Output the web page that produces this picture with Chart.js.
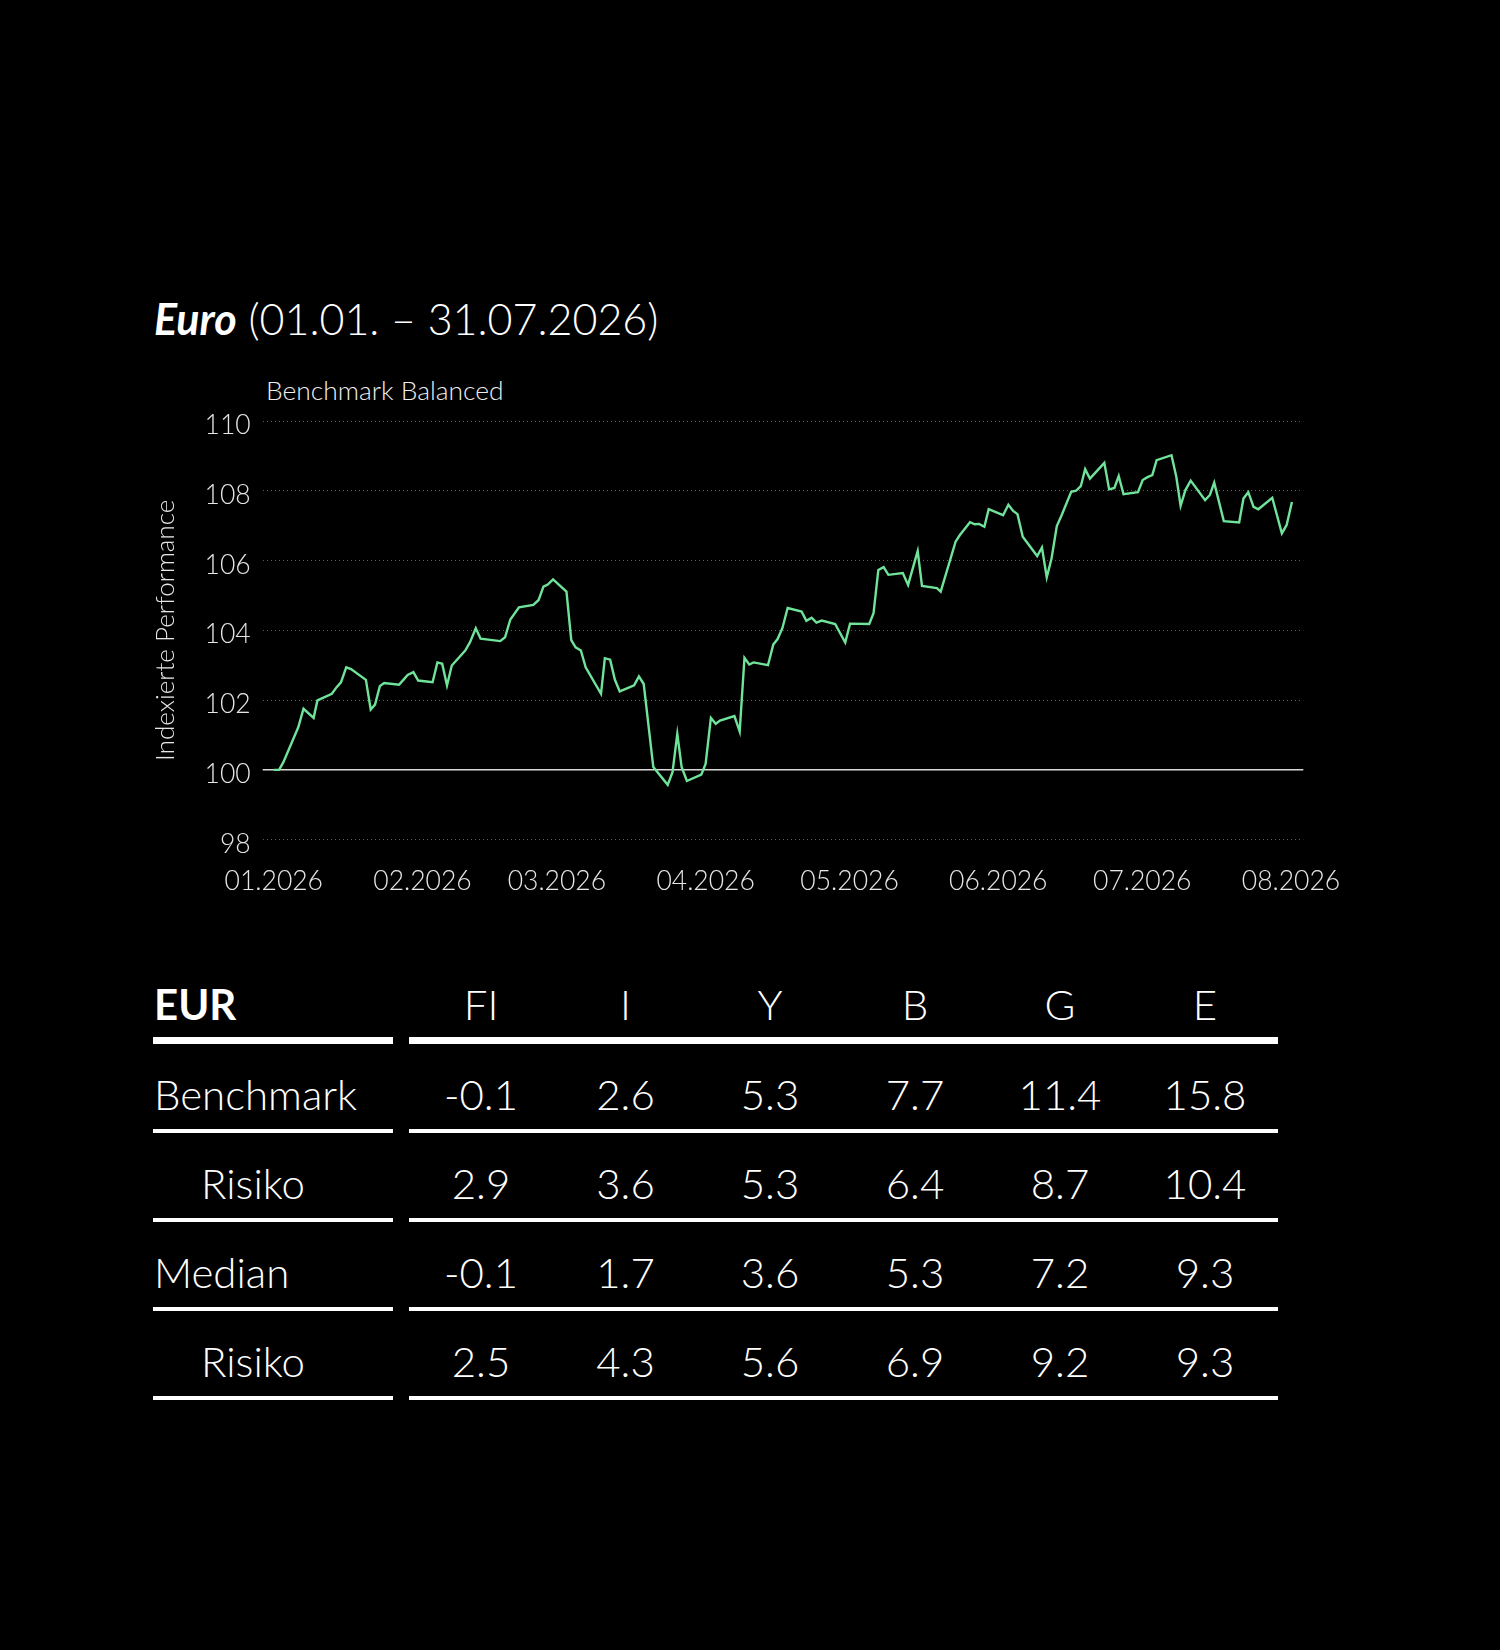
<!DOCTYPE html>
<html>
<head>
<meta charset="utf-8">
<script src="https://cdn.jsdelivr.net/npm/chart.js@4.4.1/dist/chart.umd.min.js"></script>
<style>
  html, body { margin:0; padding:0; background:#000; }
  body { width:1500px; height:1650px; position:relative; overflow:hidden; font-family:"Lato Light", Lato, "Noto Sans", sans-serif; color:#fff; }
  .abs { position:absolute; line-height:1; white-space:nowrap; }
  #title { left:154px; top:296.5px; font-size:43px; font-weight:300; }
  #title b { font-family:Lato, sans-serif; font-weight:700; font-style:italic; }
  #subtitle { left:266px; top:377px; font-size:26.4px; font-weight:300; color:#eee; }
  #chartBox { position:absolute; left:140px; top:390.7px; width:1220px; height:509.3px; }
  .cell { font-size:42px; font-weight:300; text-align:center; width:140px; }
  .rowlabel { font-size:42px; font-weight:300; }
  .hline { position:absolute; background:#fff; }
</style>
</head>
<body>
<div id="title" class="abs"><b>Euro</b> (01.01. – 31.07.2026)</div>
<div id="subtitle" class="abs">Benchmark Balanced</div>
<div id="chartBox"><canvas id="c"></canvas></div>
<div id="table"></div>
<script>
// ---- chart data (day offset from 01.01.2026, index value) ----
const dayOffsets = [0,1.1,2.0,5.1,6.2,8.3,9.1,12.1,13.1,14.0,15.1,16.1,19.2,20.2,21.1,22.1,23.0,26.1,27.0,27.9,29.1,30.1,33.1,34.1,35.1,36.1,37.1,39.9,40.9,42.1,43.1,47.2,48.2,49.3,51.1,54.1,55.2,56.2,57.1,58.2,61.0,62.0,62.9,64.0,65.0,68.2,69.0,70.1,71.1,72.1,75.1,76.1,77.1,79.1,82.1,83.1,84.1,85.0,86.1,89.1,90.0,91.1,92.1,93.0,96.0,97.1,98.1,99.1,100.0,103.0,104.1,105.0,106.0,107.1,110.0,111.0,112.1,113.1,114.2,117.0,119.1,120.1,124.1,125.0,126.0,127.1,128.1,131.1,132.2,134.2,135.1,138.2,139.0,142.1,143.0,145.1,146.1,147.0,148.1,149.0,152.0,153.1,154.1,155.0,156.1,159.1,160.1,161.1,162.1,163.2,164.2,166.2,167.2,168.2,169.1,170.1,173.1,174.1,175.2,176.1,177.1,180.1,181.1,182.1,183.1,184.0,187.1,188.1,189.0,190.0,191.1,194.1,195.1,196.0,198.0,201.2,202.1,203.1,204.2,205.2,208.1,210.1,211.1,212.2];
const indexValues = [100.00,100.00,100.22,101.22,101.75,101.49,101.99,102.18,102.37,102.51,102.94,102.89,102.58,101.73,101.87,102.40,102.49,102.44,102.58,102.72,102.80,102.56,102.51,103.08,103.04,102.42,102.99,103.42,103.66,104.06,103.76,103.69,103.80,104.31,104.66,104.73,104.87,105.25,105.31,105.46,105.11,103.72,103.51,103.42,102.94,102.18,103.20,103.16,102.58,102.25,102.42,102.68,102.46,100.08,99.57,99.93,101.03,100.08,99.68,99.86,100.17,101.49,101.32,101.41,101.54,101.10,103.21,103.02,103.08,103.00,103.59,103.75,104.06,104.64,104.54,104.27,104.36,104.22,104.28,104.18,103.65,104.19,104.18,104.49,105.73,105.81,105.59,105.64,105.30,106.27,105.27,105.21,105.11,106.54,106.73,107.10,107.04,107.05,106.97,107.47,107.30,107.60,107.42,107.33,106.68,106.13,106.37,105.52,106.06,106.99,107.30,107.97,108.00,108.13,108.62,108.35,108.80,108.04,108.08,108.42,107.90,107.96,108.31,108.39,108.45,108.88,109.02,108.40,107.57,108.02,108.29,107.73,107.88,108.23,107.13,107.09,107.78,107.96,107.54,107.47,107.80,106.78,107.02,107.68];
const monthTickDays = [0,31,59,90,120,151,181,212];
const monthTickLabels = ['01.2026','02.2026','03.2026','04.2026','05.2026','06.2026','07.2026','08.2026'];
const yTickValues = [98,100,102,104,106,108,110];
const baselineValue = 100;

// ---- table data ----
const tableTitle = 'EUR';
const tableColumns = ['FI','I','Y','B','G','E'];
const rowLabels = ['Benchmark','Risiko','Median','Risiko'];
const benchmarkReturn = ['-0.1','2.6','5.3','7.7','11.4','15.8'];
const benchmarkRisk   = ['2.9','3.6','5.3','6.4','8.7','10.4'];
const medianReturn    = ['-0.1','1.7','3.6','5.3','7.2','9.3'];
const medianRisk      = ['2.5','4.3','5.6','6.9','9.2','9.3'];

const FONT = '"Lato Light", Lato, "Noto Sans", sans-serif';

const baselinePlugin = {
  id: 'baseline',
  beforeDatasetsDraw(chart) {
    const y = chart.scales.y.getPixelForValue(baselineValue);
    const {left, right} = chart.chartArea;
    const ctx = chart.ctx;
    ctx.save();
    ctx.strokeStyle = '#d8d8d8';
    ctx.lineWidth = 1.5;
    ctx.beginPath();
    ctx.moveTo(left, y);
    ctx.lineTo(right, y);
    ctx.stroke();
    ctx.restore();
  }
};

new Chart(document.getElementById('c'), {
  type: 'line',
  data: {
    datasets: [{
      data: dayOffsets.map((d, i) => ({x: d, y: indexValues[i]})),
      borderColor: '#70e39b',
      borderWidth: 2.4,
      pointRadius: 0,
      tension: 0,
      fill: false
    }]
  },
  options: {
    responsive: true,
    maintainAspectRatio: false,
    animation: false,
    layout: { padding: { left: 0, top: 30, right: 56.7, bottom: 0 } },
    plugins: { legend: { display: false }, tooltip: { enabled: false } },
    scales: {
      x: {
        type: 'linear',
        min: -2.31,
        max: 214.57,
        afterBuildTicks: (s) => { s.ticks = monthTickDays.map(v => ({value: v})); },
        afterFit: (s) => { s.height = 60.7; },
        grid: { display: false },
        border: { display: false },
        ticks: {
          autoSkip: false,
          maxRotation: 0,
          padding: 18,
          color: '#e6e6e6',
          font: { family: FONT, size: 26.5, weight: 300 },
          callback: (v) => { const i = monthTickDays.indexOf(v); return i >= 0 ? monthTickLabels[i] : ''; }
        }
      },
      y: {
        min: 98,
        max: 110,
        afterBuildTicks: (s) => { s.ticks = yTickValues.map(v => ({value: v})); },
        afterFit: (s) => { s.width = 122.7; },
        grid: {
          drawTicks: false,
          lineWidth: 1,
          color: (ctx) => (ctx.tick && ctx.tick.value === baselineValue) ? 'rgba(0,0,0,0)' : '#5c5c5c'
        },
        border: { display: false, dash: [1, 3] },
        ticks: {
          padding: 12,
          color: '#e6e6e6',
          font: { family: FONT, size: 26.5, weight: 300, lineHeight: '9px' },
          // empty first line nudges the numeral slightly below its gridline, as in the original
          callback: (v) => ['', String(v)]
        },
        title: {
          display: true,
          text: 'Indexierte Performance',
          color: '#e6e6e6',
          font: { family: FONT, size: 26, weight: 300 },
          padding: { top: 10.4, bottom: 0 }
        }
      }
    }
  },
  plugins: [baselinePlugin]
});

// ---- table ----
(function buildTable() {
  const root = document.getElementById('table');
  const colCenters = [481, 625.5, 770, 915, 1060, 1205];
  const add = (cls, text, left, top, extra) => {
    const d = document.createElement('div');
    d.className = 'abs ' + cls;
    d.textContent = text;
    d.style.left = left + 'px';
    d.style.top = top + 'px';
    if (extra) Object.assign(d.style, extra);
    root.appendChild(d);
  };
  const line = (top, h) => {
    [[153.3, 240], [409.3, 868.7]].forEach(([l, w]) => {
      const d = document.createElement('div');
      d.className = 'hline';
      d.style.left = l + 'px'; d.style.width = w + 'px';
      d.style.top = top + 'px'; d.style.height = h + 'px';
      root.appendChild(d);
    });
  };
  const half = 22.5;
  // header
  add('rowlabel', tableTitle, 154, 1005 - half, {fontFamily: 'Lato, sans-serif', fontWeight: '700'});
  tableColumns.forEach((c, i) => add('cell', c, colCenters[i] - 70, 1005 - half));
  line(1037.3, 6.7);
  const rows = [benchmarkReturn, benchmarkRisk, medianReturn, medianRisk];
  rows.forEach((vals, r) => {
    const top = 1095 + r * 89 - half;
    const indent = (r % 2 === 1) ? 201 : 154;
    add('rowlabel', rowLabels[r], indent, top);
    vals.forEach((v, i) => add('cell', v, colCenters[i] - 70, top));
    line(1128.5 + r * 89, 4);
  });
})();
</script>
</body>
</html>
